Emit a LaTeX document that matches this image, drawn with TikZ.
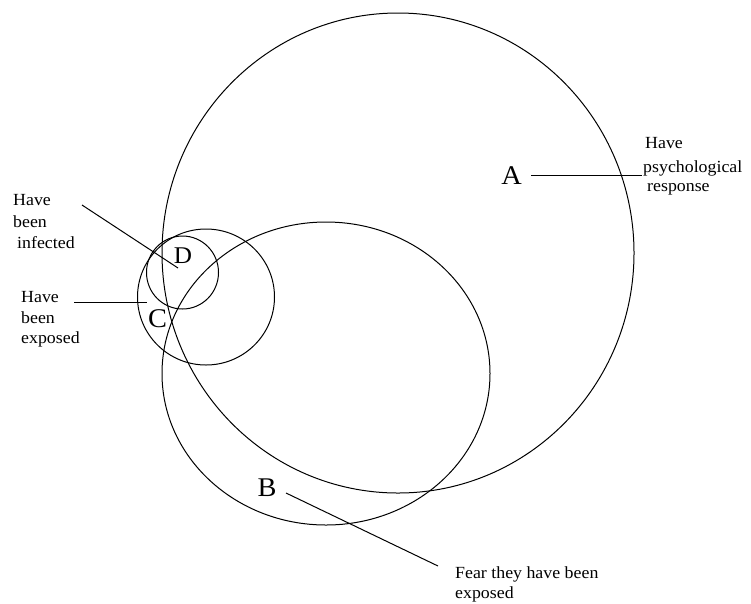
\documentclass[tikz,border=0pt]{standalone}
\usepackage{fontspec}
\setmainfont{Liberation Serif}[FakeStretch=1.05]
\begin{document}
\begin{tikzpicture}[x=1pt,y=-1pt,
  lbl/.style={font=\fontsize{17}{20}\selectfont, anchor=base west, inner sep=0pt},
  letter/.style={font=\fontsize{27}{30}\selectfont, inner sep=0pt},
  ring/.style={draw=black, line width=1pt},
  lead/.style={draw=black, line width=1pt}]
\useasboundingbox (0,0) rectangle (751,603);
% sets
\draw[ring] (398,253) ellipse [x radius=236pt, y radius=240pt];
\draw[ring] (326,373.5) ellipse [x radius=164pt, y radius=151.5pt];
\draw[ring] (206,297) ellipse [x radius=68.5pt, y radius=68pt];
\draw[ring] (182.5,272.5) ellipse [x radius=36pt, y radius=36.5pt];
% set letters
\node[letter] (A) at (511.5,176) {A};
\node[letter, font=\fontsize{24}{27}\selectfont] (D) at (183,255.5) {D};
\node[letter] (C) at (157.5,318.5) {C};
\node[letter] (B) at (267,487.5) {B};
% labels
\node[lbl] (a1) at (645,148) {Have};
\node[lbl] (a2) at (643,172) {psychological};
\node[lbl] (a3) at (647,191) {response};
\node[lbl] (d1) at (13,205) {Have};
\node[lbl] (d2) at (13,227) {been};
\node[lbl] (d3) at (17,248) {infected};
\node[lbl] (c1) at (21,302) {Have};
\node[lbl] (c2) at (21,323) {been};
\node[lbl] (c3) at (21,343) {exposed};
\node[lbl] (b1) at (455,578) {Fear they have been};
\node[lbl] (b2) at (455,598) {exposed};
% leader ends
\coordinate (aS) at (531,175);
\coordinate (aE) at (642,175);
\coordinate (dS) at (82,205);
\coordinate (dE) at (178,268);
\coordinate (cS) at (74,302);
\coordinate (cE) at (147,302);
\coordinate (bS) at (286,493);
\coordinate (bE) at (438,566);
\draw[lead] (aS) -- (aE);
\draw[lead] (dS) -- (dE);
\draw[lead] (cS) -- (cE);
\draw[lead] (bS) -- (bE);
\end{tikzpicture}
\end{document}
